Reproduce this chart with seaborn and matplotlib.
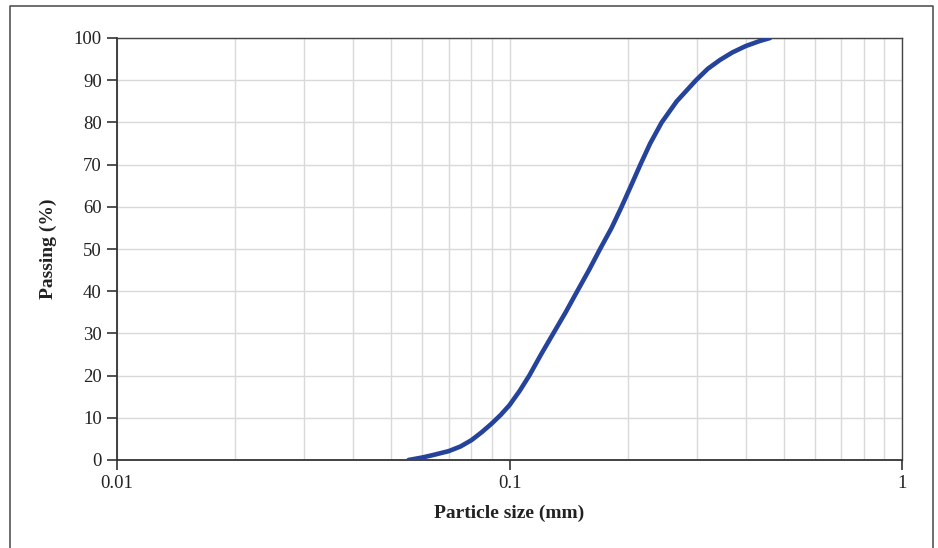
import matplotlib
matplotlib.use("Agg")
import matplotlib.pyplot as plt
import matplotlib.ticker as mticker
from matplotlib.lines import Line2D
import seaborn as sns
import pandas as pd

# Data
particle_size_mm = [0.0553, 0.0600, 0.0640, 0.0700, 0.0750, 0.0800, 0.0850, 0.0900,
                    0.0950, 0.1000, 0.1060, 0.1123, 0.1203, 0.1293, 0.1390, 0.1488,
                    0.1594, 0.1701, 0.1820, 0.1930, 0.2040, 0.2155, 0.2282, 0.2442,
                    0.2667, 0.2987, 0.3200, 0.3438, 0.3700, 0.4000, 0.4346, 0.4611]
passing_pct = [0.0, 0.6, 1.2, 2.1, 3.2, 4.7, 6.6, 8.6,
               10.7, 13.0, 16.3, 20.0, 25.0, 30.0, 35.0, 40.0,
               45.0, 50.0, 55.0, 60.0, 65.0, 70.0, 75.0, 80.0,
               85.0, 90.0, 92.7, 94.8, 96.6, 98.1, 99.3, 100.0]
x_ticks = [0.01, 0.1, 1]
x_tick_labels = ["0.01", "0.1", "1"]
y_ticks = [0, 10, 20, 30, 40, 50, 60, 70, 80, 90, 100]

df = pd.DataFrame({"size": particle_size_mm, "passing": passing_pct})

sns.set_theme(style="white")
plt.rcParams["font.family"] = ["Liberation Serif", "DejaVu Serif"]

fig = plt.figure(figsize=(9.38, 5.48), dpi=100)
ax = fig.add_axes([117/938, 1-460/548, (902-117)/938, (460-38)/548])

sns.lineplot(data=df, x="size", y="passing", ax=ax, sort=False,
             color="#26439b", linewidth=3.3, solid_capstyle="round",
             solid_joinstyle="round", zorder=5)

ax.set_xscale("log")
ax.set_xlim(0.01, 1)
ax.set_ylim(0, 100)
ax.set_xticks(x_ticks, labels=x_tick_labels)
ax.xaxis.set_minor_locator(mticker.LogLocator(base=10, subs=range(2, 10)))
ax.xaxis.set_minor_formatter(mticker.NullFormatter())
ax.set_yticks(y_ticks)

ax.grid(True, which="major", axis="both", color="#d9d9d9", linewidth=1.0, zorder=0)
ax.grid(True, which="minor", axis="x", color="#d9d9d9", linewidth=1.0, zorder=0)
ax.set_axisbelow(True)

for side in ["left", "bottom"]:
    ax.spines[side].set_color("#333333")
    ax.spines[side].set_linewidth(1.3)
for side in ["top", "right"]:
    ax.spines[side].set_color("#444444")
    ax.spines[side].set_linewidth(1.0)
    ax.spines[side].set_visible(True)

ax.tick_params(axis="both", which="major", direction="out", length=7, width=1.2,
               color="#333333", labelsize=13.5, labelcolor="#222222", pad=4)
ax.tick_params(axis="x", which="minor", length=0)
ax.tick_params(left=True, bottom=True)

ax.set_xlabel("Particle size (mm)", fontsize=14, fontweight="bold", color="#222222", labelpad=9)
ax.set_ylabel("Passing (%)", fontsize=14, fontweight="bold", color="#222222", labelpad=12)

# Outer frame (open at the bottom)
fx0, fx1, fy1 = 10/938, 933/938, 1-6/548
fig.add_artist(Line2D([fx0, fx0, fx1, fx1], [-0.01, fy1, fy1, -0.01],
                      transform=fig.transFigure, color="#555555", linewidth=1.2))

fig.savefig("out.png", dpi=100)
